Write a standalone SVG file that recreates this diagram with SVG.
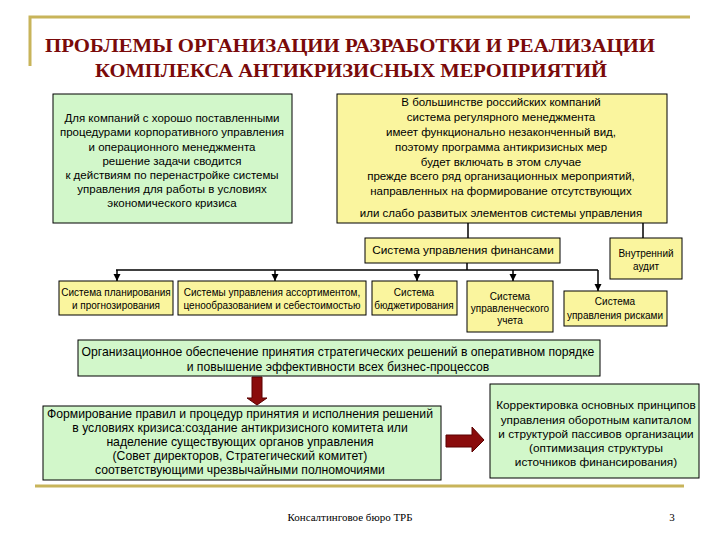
<svg xmlns="http://www.w3.org/2000/svg" width="720" height="540" viewBox="0 0 720 540">
  <defs>
    <style>
      .title { font-family: "Liberation Serif", "Times New Roman", serif; font-weight: bold; font-size: 19px; fill: #7a0a0a; text-anchor: middle; }
      .t { font-family: "Liberation Sans", Arial, sans-serif; font-size: 11.5px; fill: #000; text-anchor: middle; }
      .ts { font-family: "Liberation Sans", Arial, sans-serif; font-size: 10px; fill: #000; text-anchor: middle; }
      .tm { font-family: "Liberation Sans", Arial, sans-serif; font-size: 11.8px; fill: #000; text-anchor: middle; }
      .tl { font-family: "Liberation Sans", Arial, sans-serif; font-size: 12.2px; fill: #000; text-anchor: middle; }
      .foot { font-family: "Liberation Serif", "Times New Roman", serif; font-size: 11px; fill: #000; }
      .yel { fill: #FAF59E; stroke: #000; stroke-width: 1; }
      .grn { fill: #D2F7CA; stroke: #000; stroke-width: 1; }
      .gold { stroke: #C8B45A; stroke-width: 3; fill: none; }
      .conn { stroke: #000; stroke-width: 1.5; fill: none; }
      .red { fill: #8A0C0C; stroke: #5A0000; stroke-width: 1; }
    </style>
    <marker id="ah" viewBox="0 0 10 10" refX="10" refY="5" markerWidth="5" markerHeight="5" orient="auto" markerUnits="strokeWidth">
      <path d="M0,0 L10,5 L0,10 Z" fill="#000"/>
    </marker>
  </defs>
  <rect width="720" height="540" fill="#fff"/>

  <!-- decorations -->
  <g id="decor">
    <path class="gold" d="M30,66 L30,17 L690,17"/>
    <line class="gold" x1="35" y1="486" x2="684" y2="486"/>
  </g>

  <g id="title">
    <text class="title" x="350" y="52" textLength="610" lengthAdjust="spacingAndGlyphs">ПРОБЛЕМЫ ОРГАНИЗАЦИИ РАЗРАБОТКИ И РЕАЛИЗАЦИИ</text>
    <text class="title" x="351" y="77" textLength="512" lengthAdjust="spacingAndGlyphs">КОМПЛЕКСА АНТИКРИЗИСНЫХ МЕРОПРИЯТИЙ</text>
  </g>

  <!-- connectors -->
  <g id="connectors">
    <line class="conn" x1="468" y1="223" x2="468" y2="238"/>
    <line class="conn" x1="643" y1="223" x2="643" y2="238"/>
    <line class="conn" x1="467" y1="263" x2="467" y2="270"/>
    <line class="conn" x1="116" y1="270" x2="598" y2="270"/>
    <line class="conn" x1="117" y1="270" x2="117" y2="281" marker-end="url(#ah)"/>
    <line class="conn" x1="275" y1="270" x2="275" y2="281" marker-end="url(#ah)"/>
    <line class="conn" x1="417" y1="270" x2="417" y2="281" marker-end="url(#ah)"/>
    <line class="conn" x1="513" y1="270" x2="513" y2="281" marker-end="url(#ah)"/>
    <line class="conn" x1="598" y1="270" x2="598" y2="291" marker-end="url(#ah)"/>
    <polygon class="red" points="252,377 262,377 262,398 267,398 257,405 247,398 252,398"/>
    <polygon class="red" points="446,435 472,435 472,427 484,440 472,452 472,447 446,447"/>
  </g>

  <g id="node-left">
    <rect class="grn" x="53" y="94" width="239" height="129"/>
    <text class="t" x="172" y="122">Для компаний с хорошо поставленными</text>
    <text class="t" x="172" y="136">процедурами корпоративного управления</text>
    <text class="t" x="172" y="151">и операционного менеджмента</text>
    <text class="t" x="172" y="165">решение задачи сводится</text>
    <text class="t" x="172" y="179">к действиям по перенастройке системы</text>
    <text class="t" x="172" y="193">управления для работы в условиях</text>
    <text class="t" x="172" y="207">экономического кризиса</text>
  </g>

  <g id="node-right">
    <rect class="yel" x="337" y="94" width="330" height="129"/>
    <text class="t" x="501" y="106">В большинстве российских компаний</text>
    <text class="t" x="501" y="121">система регулярного менеджмента</text>
    <text class="t" x="501" y="136">имеет функционально незаконченный вид,</text>
    <text class="t" x="501" y="151">поэтому программа антикризисных мер</text>
    <text class="t" x="501" y="166">будет включать в этом случае</text>
    <text class="t" x="501" y="180">прежде всего ряд организационных мероприятий,</text>
    <text class="t" x="501" y="195">направленных на формирование отсутствующих</text>
    <text class="t" x="501" y="217">или слабо развитых элементов системы управления</text>
  </g>

  <g id="node-finance">
    <rect class="yel" x="365" y="238" width="195" height="25"/>
    <text class="tm" x="463" y="254">Система управления финансами</text>
  </g>

  <g id="node-audit">
    <rect class="yel" x="610" y="238" width="72" height="41"/>
    <text class="ts" x="646" y="257">Внутренний</text>
    <text class="ts" x="646" y="270">аудит</text>
  </g>

  <g id="node-planning">
    <rect class="yel" x="59" y="281" width="114" height="34"/>
    <text class="ts" x="116" y="296">Система планирования</text>
    <text class="ts" x="116" y="309">и прогнозирования</text>
  </g>

  <g id="node-assortment">
    <rect class="yel" x="178" y="281" width="188" height="34"/>
    <text class="ts" x="272" y="296">Системы управления ассортиментом,</text>
    <text class="ts" x="272" y="309">ценообразованием и себестоимостью</text>
  </g>

  <g id="node-budget">
    <rect class="yel" x="372" y="281" width="85" height="34"/>
    <text class="ts" x="414" y="296">Система</text>
    <text class="ts" x="414" y="309">бюджетирования</text>
  </g>

  <g id="node-accounting">
    <rect class="yel" x="467" y="281" width="86" height="51"/>
    <text class="ts" x="510" y="300">Система</text>
    <text class="ts" x="510" y="312">управленческого</text>
    <text class="ts" x="510" y="324">учета</text>
  </g>

  <g id="node-risks">
    <rect class="yel" x="564" y="291" width="103" height="35"/>
    <text class="ts" x="615" y="305">Система</text>
    <text class="ts" x="615" y="319">управления рисками</text>
  </g>

  <g id="node-org">
    <rect class="grn" x="78" y="340" width="522" height="36"/>
    <text class="tl" x="338" y="356">Организационное обеспечение принятия стратегических решений в оперативном порядке</text>
    <text class="tl" x="338" y="371">и повышение эффективности всех бизнес-процессов</text>
  </g>

  <g id="node-formation">
    <rect class="grn" x="43" y="406" width="398" height="74"/>
    <text class="tl" x="240" y="418">Формирование правил и процедур принятия и исполнения решений</text>
    <text class="tl" x="240" y="432">в условиях кризиса:создание антикризисного комитета или</text>
    <text class="tl" x="240" y="446">наделение существующих органов управления</text>
    <text class="tl" x="240" y="460">(Совет директоров, Стратегический комитет)</text>
    <text class="tl" x="240" y="474">соответствующими чрезвычайными полномочиями</text>
  </g>

  <g id="node-correction">
    <rect class="grn" x="490" y="384" width="209" height="94"/>
    <text class="tm" x="596" y="409">Корректировка основных принципов</text>
    <text class="tm" x="596" y="424">управления оборотным капиталом</text>
    <text class="tm" x="596" y="438">и структурой пассивов организации</text>
    <text class="tm" x="596" y="452">(оптимизация структуры</text>
    <text class="tm" x="596" y="466">источников финансирования)</text>
  </g>

  <g id="footer">
    <text class="foot" x="350" y="521" text-anchor="middle">Консалтинговое бюро ТРБ</text>
    <text class="foot" x="672" y="521" text-anchor="middle">3</text>
  </g>
</svg>
